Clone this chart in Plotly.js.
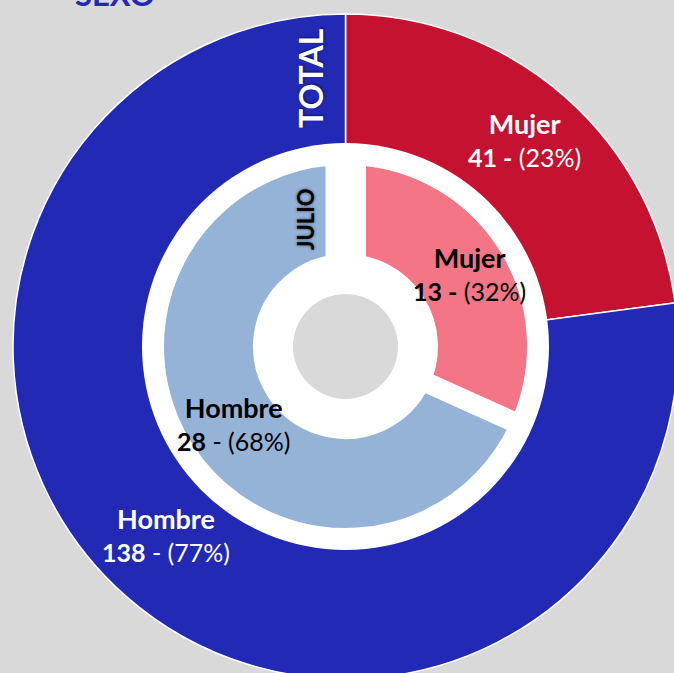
<!DOCTYPE html>
<html>
<head>
<meta charset="utf-8">
<script src="https://cdn.plot.ly/plotly-3.0.1.min.js"></script>
<style>
html,body{margin:0;padding:0;overflow:hidden;background:#d9d9d9;}
#chart{width:700px;height:700px;}
</style>
</head>
<body>
<div id="chart"></div>
<script>
// ---- data ----
const categories = ["Mujer", "Hombre"];
const totalValues = [41, 138];
const julioValues = [13, 28];
const chartTitle = "SEXO";
const outerName = "TOTAL";
const innerName = "JULIO";

// ---- styling ----
const W = 700, H = 700;
const px = x => x / W;
const py = y => 1 - y / H;
const FONT = "Lato, 'Open Sans', sans-serif";
const cx = 345.5, cy = 346.5;

function dom(r) {
  return {x: [px(cx - r), px(cx + r)], y: [py(cy + r), py(cy - r)]};
}
const pct = (v, arr) => Math.round(100 * v / arr.reduce((a, b) => a + b, 0));

const outer = {
  type: "pie", values: totalValues, labels: categories, sort: false,
  direction: "clockwise", rotation: 0, textinfo: "none", hoverinfo: "none",
  marker: {colors: ["#c41230", "#2129b5"], line: {color: "#ffffff", width: 1.5}},
  domain: dom(332.5), showlegend: false
};
const disk = {
  type: "pie", values: [1], labels: ["disk"], textinfo: "none", hoverinfo: "none",
  marker: {colors: ["#ffffff"], line: {width: 0}}, domain: dom(203.5), showlegend: false
};
const inner = {
  type: "pie", values: julioValues, labels: categories, sort: false,
  direction: "clockwise", rotation: 0, textinfo: "none", hoverinfo: "none",
  hole: 82.5 / 191.5,
  marker: {colors: ["#f47585", "#95b3d7"], line: {color: "#ffffff", width: 20}},
  domain: dom(191.5), showlegend: false
};

function lbl(x, y, i, vals, color, boldDash) {
  const num = boldDash ? "<b>" + vals[i] + " -</b>" : "<b>" + vals[i] + "</b> -";
  return {
    xref: "paper", yref: "paper", x: px(x), y: py(y), showarrow: false,
    xanchor: "center", yanchor: "middle", align: "center",
    text: "<span style='font-size:27px'><b>" + categories[i] + "</b></span><br>" +
          num + " (" + pct(vals[i], vals) + "%)",
    font: {family: FONT, size: 25, color: color}
  };
}

const annotations = [
  {xref: "paper", yref: "paper", x: px(115), y: py(-6), showarrow: false,
   xanchor: "center", yanchor: "middle", text: "<b>" + chartTitle + "</b>",
   font: {family: FONT, size: 31, color: "#2129b5"}},
  {xref: "paper", yref: "paper", x: px(310), y: py(78), showarrow: false, textangle: -90,
   xanchor: "center", yanchor: "middle", text: "<b>" + outerName + "</b>",
   font: {family: FONT, size: 32, color: "#ffffff", shadow: "1px 1px 2px rgba(0,0,0,0.5)"}},
  {xref: "paper", yref: "paper", x: px(306), y: py(219), showarrow: false, textangle: -90,
   xanchor: "center", yanchor: "middle", text: "<b>" + innerName + "</b>",
   font: {family: FONT, size: 22, color: "#000000", shadow: "0px 0px 3px rgba(0,0,0,0.6)"}},
  lbl(524, 139, 0, totalValues, "#ffffff", true),
  lbl(166, 534, 1, totalValues, "#ffffff", false),
  lbl(470, 273, 0, julioValues, "#000000", true),
  lbl(234, 423, 1, julioValues, "#000000", false)
];

const shapes = [
  {type: "rect", xref: "paper", yref: "paper", layer: "above",
   x0: px(325.5), x1: px(366), y0: py(300), y1: py(150),
   fillcolor: "#ffffff", line: {width: 0}},
  {type: "circle", xref: "paper", yref: "paper", layer: "above",
   x0: px(cx - 52.5), x1: px(cx + 52.5), y0: py(cy + 52.5), y1: py(cy - 52.5),
   fillcolor: "#d9d9d9", line: {width: 0}}
];

Plotly.newPlot("chart", [outer, disk, inner], {
  width: W, height: H, margin: {l: 0, r: 0, t: 0, b: 0},
  paper_bgcolor: "#d9d9d9", plot_bgcolor: "#d9d9d9",
  annotations: annotations, shapes: shapes, showlegend: false
}, {staticPlot: true, displayModeBar: false});
</script>
</body>
</html>
